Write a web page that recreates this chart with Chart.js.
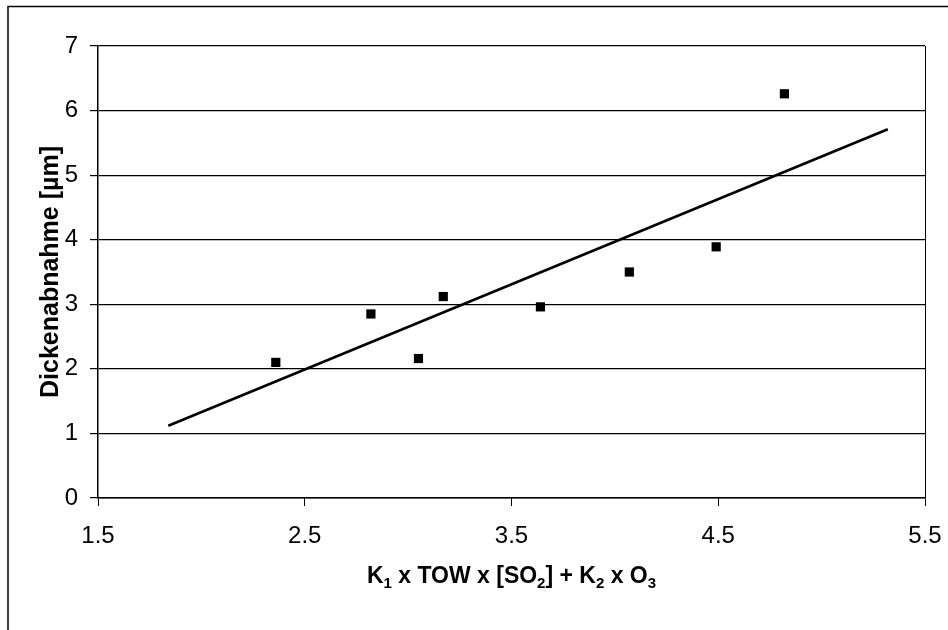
<!DOCTYPE html>
<html lang="de">
<head>
    <meta charset="UTF-8">
    <title>Dickenabnahme</title>
    <script src="https://cdn.jsdelivr.net/npm/chart.js"></script>
    <style>
        body {
            margin: 0;
            background: #ffffff;
        }
    </style>
</head>
<body>
<canvas id="myChart" width="948" height="630"></canvas>

<script>
    // Messpunkte
    const xWerte = [2.36, 2.82, 3.05, 3.17, 3.64, 4.07, 4.49, 4.82];
    const yWerte = [2.10, 2.85, 2.16, 3.12, 2.96, 3.50, 3.89, 6.26];

    // Trendlinie (Anfang und Ende)
    const trendX = [1.84, 5.32];
    const trendY = [1.12, 5.71];

    // x-Titel in Stuecken, true = tiefgestellt
    const xTitelTeile = [
        ['K', false], ['1', true], [' x TOW x [SO', false], ['2', true],
        ['] + K', false], ['2', true], [' x O', false], ['3', true],
    ];
    const yTitel = 'Dickenabnahme [\u00b5m]';

    const schrift = "'Liberation Sans', Arial, sans-serif";

    const punkte = xWerte.map((x, i) => ({x: x, y: yWerte[i]}));
    const trend = trendX.map((x, i) => ({x: x, y: trendY[i]}));

    // Rahmen um das ganze Diagramm + x-Titel mit tiefgestellten Zahlen
    const rahmen = {
        id: 'rahmen',
        beforeDraw(chart) {
            const c = chart.ctx;
            c.save();
            c.fillStyle = '#ffffff';
            c.fillRect(0, 0, chart.width, chart.height);
            c.strokeStyle = '#000000';
            c.lineWidth = 1.5;
            c.strokeRect(8, 6.5, 1000, 1000);
            c.restore();
        },
        afterDraw(chart) {
            const c = chart.ctx;
            const gross = 'bold 23px ' + schrift;
            const klein = 'bold 15px ' + schrift;
            c.save();
            c.fillStyle = '#000000';
            c.textBaseline = 'alphabetic';
            c.textAlign = 'left';
            let breite = 0;
            for (const [t, tief] of xTitelTeile) {
                c.font = tief ? klein : gross;
                breite += c.measureText(t).width;
            }
            const area = chart.chartArea;
            let x = (area.left + area.right) / 2 - breite / 2;
            const y = 583;
            for (const [t, tief] of xTitelTeile) {
                c.font = tief ? klein : gross;
                c.fillText(t, x, tief ? y + 5 : y);
                x += c.measureText(t).width;
            }
            c.restore();
        }
    };

    const ctx = document.getElementById('myChart');
    const myChart = new Chart(ctx, {
        type: 'scatter',
        data: {
            datasets: [
                {
                    data: punkte,
                    pointStyle: 'rect',
                    pointRadius: 6.5,
                    backgroundColor: '#000000',
                    borderColor: '#000000',
                    borderWidth: 0,
                },
                {
                    type: 'line',
                    data: trend,
                    borderColor: '#000000',
                    borderWidth: 2.6,
                    pointRadius: 0,
                    fill: false,
                },
            ],
        },
        options: {
            responsive: false,
            animation: false,
            layout: {
                padding: {left: 0, top: 46, right: 23, bottom: 0}
            },
            plugins: {
                legend: {display: false},
                tooltip: {enabled: false},
            },
            scales: {
                x: {
                    type: 'linear',
                    min: 1.5,
                    max: 5.5,
                    ticks: {
                        stepSize: 1,
                        padding: 16,
                        color: '#000000',
                        font: {family: schrift, size: 24},
                        callback: v => v.toFixed(1),
                    },
                    grid: {
                        color: c => (c.tick && c.tick.value === 5.5) ? '#000000' : 'rgba(0,0,0,0)',
                        tickColor: '#000000',
                        tickLength: 8,
                        drawTicks: true,
                    },
                    border: {color: '#000000', width: 1.5},
                    afterFit: scale => {
                        scale.height = 132;
                        scale.paddingLeft = 0;
                        scale.paddingRight = 0;
                    },
                },
                y: {
                    min: 0,
                    max: 7,
                    ticks: {
                        stepSize: 1,
                        padding: 12,
                        color: '#000000',
                        font: {family: schrift, size: 24},
                    },
                    grid: {
                        color: '#000000',
                        tickColor: '#000000',
                        tickLength: 8,
                        lineWidth: 1.2,
                    },
                    border: {color: '#000000', width: 1.5},
                    title: {
                        display: true,
                        text: yTitel,
                        color: '#000000',
                        font: {family: schrift, size: 25, weight: 'bold'},
                        padding: {top: 36, bottom: 0},
                    },
                    afterFit: scale => {
                        scale.width = 98;
                        scale.paddingTop = 0;
                        scale.paddingBottom = 0;
                    },
                },
            },
        },
        plugins: [rahmen],
    });
</script>
</body>
</html>
